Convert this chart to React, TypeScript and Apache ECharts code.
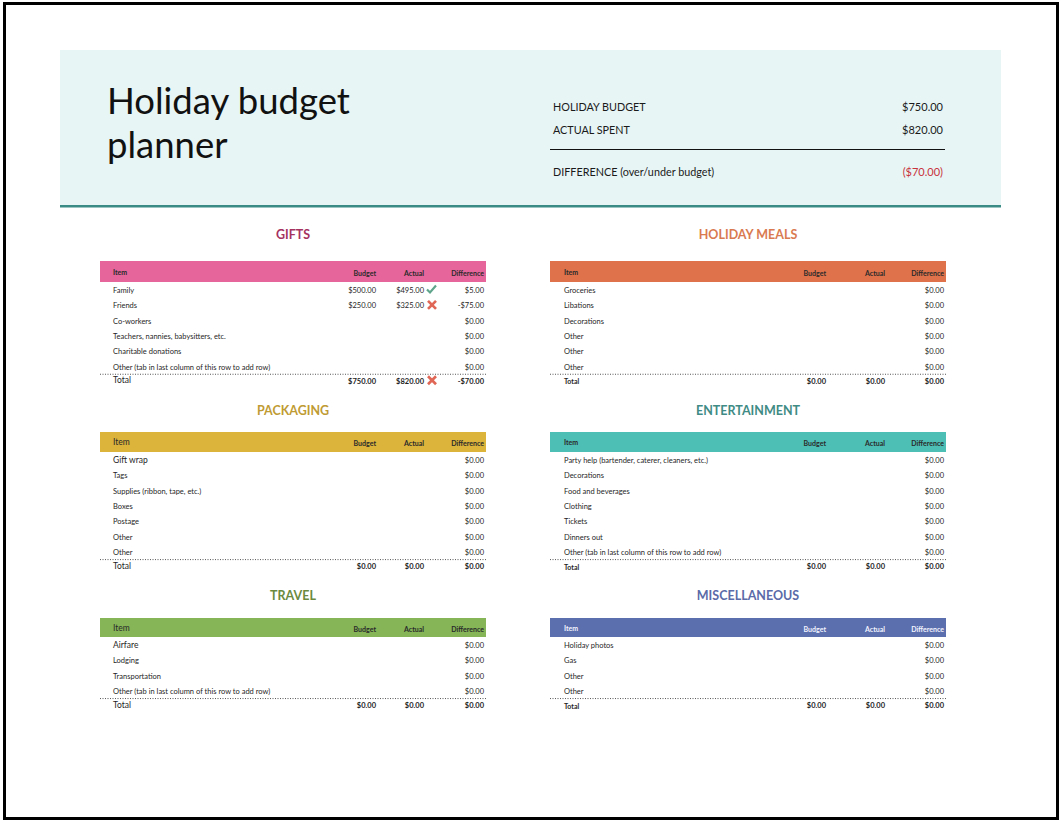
import React, { useEffect, useRef } from "react";
import * as echarts from "echarts";

// ---------- data ----------
const summaryLabels = ["HOLIDAY BUDGET", "ACTUAL SPENT", "DIFFERENCE (over/under budget)"];
const summaryValues = [750, 820, -70];

const giftsItems = ["Family", "Friends", "Co-workers", "Teachers, nannies, babysitters, etc.", "Charitable donations", "Other (tab in last column of this row to add row)"];
const giftsBudget = [500, 250, null, null, null, null];
const giftsActual = [495, 325, null, null, null, null];
const giftsDiff = [5, -75, 0, 0, 0, 0];
const giftsTotal = [750, 820, -70];
const giftsMarks = ["check", "cross", null, null, null, null];
const giftsTotalMark = "cross";

const mealsItems = ["Groceries", "Libations", "Decorations", "Other", "Other", "Other"];
const mealsDiff = [0, 0, 0, 0, 0, 0];
const mealsTotal = [0, 0, 0];

const packagingItems = ["Gift wrap", "Tags", "Supplies (ribbon, tape, etc.)", "Boxes", "Postage", "Other", "Other"];
const packagingDiff = [0, 0, 0, 0, 0, 0, 0];
const packagingTotal = [0, 0, 0];

const entertainmentItems = ["Party help (bartender, caterer, cleaners, etc.)", "Decorations", "Food and beverages", "Clothing", "Tickets", "Dinners out", "Other (tab in last column of this row to add row)"];
const entertainmentDiff = [0, 0, 0, 0, 0, 0, 0];
const entertainmentTotal = [0, 0, 0];

const travelItems = ["Airfare", "Lodging", "Transportation", "Other (tab in last column of this row to add row)"];
const travelDiff = [0, 0, 0, 0];
const travelTotal = [0, 0, 0];

const miscItems = ["Holiday photos", "Gas", "Other", "Other"];
const miscDiff = [0, 0, 0, 0];
const miscTotal = [0, 0, 0];

const columnHeaders = ["Item", "Budget", "Actual", "Difference"];

// ---------- helpers ----------
const FONT = "Lato, 'Open Sans', sans-serif";

function money(v: number | null): string {
  if (v === null || v === undefined) return "";
  const s = "$" + Math.abs(v).toFixed(2);
  return v < 0 ? "-" + s : s;
}

function txt(x: number, y: number, text: string, o: any = {}) {
  const align = o.align || "left";
  return {
    type: "text",
    x,
    y,
    silent: true,
    style: {
      text,
      fill: o.fill || "#1f1f1f",
      fontSize: o.size || 7,
      fontFamily: o.family || FONT,
      fontWeight: o.weight || "normal",
      align,
      textAlign: align,
      verticalAlign: "middle",
      textVerticalAlign: "middle",
    },
  };
}

function checkMark(x: number, y: number) {
  return {
    type: "polyline",
    silent: true,
    shape: { points: [[x, y], [x + 3, y + 3], [x + 9, y - 4]] },
    style: { stroke: "#5fa58c", lineWidth: 2.2, fill: null },
  };
}
function crossMark(x: number, y: number) {
  return [
    { type: "line", silent: true, shape: { x1: x, y1: y - 4, x2: x + 8, y2: y + 4 }, style: { stroke: "#e06656", lineWidth: 2.6 } },
    { type: "line", silent: true, shape: { x1: x + 8, y1: y - 4, x2: x, y2: y + 4 }, style: { stroke: "#e06656", lineWidth: 2.6 } },
  ];
}

type Section = {
  title: string;
  titleColor: string;
  barColor: string;
  headColor: string;
  side: "L" | "R";
  titleY: number;
  barY: number;
  barH: number;
  items: string[];
  budget?: (number | null)[];
  actual?: (number | null)[];
  diff: number[];
  total: number[];
  marks?: (string | null)[];
  totalMark?: string | null;
  bigFirst?: boolean;
  bigTotal?: boolean;
  bigItemHead?: boolean;
};

const sections: Section[] = [
  { title: "GIFTS", titleColor: "#a5325f", barColor: "#e6659a", headColor: "#2a2a2a", side: "L", titleY: 234, barY: 261, barH: 21, items: giftsItems, budget: giftsBudget, actual: giftsActual, diff: giftsDiff, total: giftsTotal, marks: giftsMarks, totalMark: giftsTotalMark, bigTotal: true },
  { title: "HOLIDAY MEALS", titleColor: "#d97a51", barColor: "#e0724b", headColor: "#2a2a2a", side: "R", titleY: 234, barY: 261, barH: 21, items: mealsItems, diff: mealsDiff, total: mealsTotal },
  { title: "PACKAGING", titleColor: "#bf9b34", barColor: "#dcb33b", headColor: "#2a2a2a", side: "L", titleY: 410, barY: 432, barH: 20, items: packagingItems, diff: packagingDiff, total: packagingTotal, bigFirst: true, bigTotal: true, bigItemHead: true },
  { title: "ENTERTAINMENT", titleColor: "#3f8b85", barColor: "#4ebfb5", headColor: "#2a2a2a", side: "R", titleY: 410, barY: 432, barH: 20, items: entertainmentItems, diff: entertainmentDiff, total: entertainmentTotal },
  { title: "TRAVEL", titleColor: "#6b8a40", barColor: "#85b557", headColor: "#2a2a2a", side: "L", titleY: 595, barY: 618, barH: 19, items: travelItems, diff: travelDiff, total: travelTotal, bigFirst: true, bigTotal: true, bigItemHead: true },
  { title: "MISCELLANEOUS", titleColor: "#5b6aa8", barColor: "#5b6ead", headColor: "#f2f4ff", side: "R", titleY: 595, barY: 618, barH: 19, items: miscItems, diff: miscDiff, total: miscTotal },
];

const GEOM = {
  L: { x0: 100, x1: 486, item: 113, budget: 376, actual: 424, diff: 484 },
  R: { x0: 550, x1: 946, item: 564, budget: 826, actual: 885, diff: 944 },
};

function buildSection(s: Section): any[] {
  const g = GEOM[s.side];
  const out: any[] = [];
  out.push(txt((g.x0 + g.x1) / 2, s.titleY, s.title, { align: "center", size: 12.5, weight: "bold", fill: s.titleColor }));
  out.push({ type: "rect", silent: true, shape: { x: g.x0, y: s.barY, width: g.x1 - g.x0, height: s.barH }, style: { fill: s.barColor } });
  const hy = s.barY + s.barH / 2;
  out.push(txt(g.item, hy, columnHeaders[0], s.bigItemHead ? { size: 8.5, fill: s.headColor } : { size: 7, weight: "bold", fill: s.headColor }));
  out.push(txt(g.budget, hy + 1, columnHeaders[1], { size: 7, weight: "bold", fill: s.headColor, align: "right" }));
  out.push(txt(g.actual, hy + 1, columnHeaders[2], { size: 7, weight: "bold", fill: s.headColor, align: "right" }));
  out.push(txt(g.diff, hy + 1, columnHeaders[3], { size: 7, weight: "bold", fill: s.headColor, align: "right" }));
  const y0 = s.barY + s.barH + 8.5;
  const step = 15.35;
  s.items.forEach((it, i) => {
    const y = y0 + i * step;
    const big = s.bigFirst && i === 0;
    out.push(txt(g.item, big ? y - 1 : y, it, { size: big ? 8.5 : 7.5 }));
    if (s.budget && s.budget[i] !== null) out.push(txt(g.budget, y, money(s.budget[i] as number), { size: 7.5, align: "right" }));
    if (s.actual && s.actual[i] !== null) out.push(txt(g.actual, y, money(s.actual[i] as number), { size: 7.5, align: "right" }));
    out.push(txt(g.diff, y, money(s.diff[i]), { size: 7.5, align: "right" }));
    const m = s.marks ? s.marks[i] : null;
    if (m === "check") out.push(checkMark(g.actual + 3, y - 1));
    if (m === "cross") out.push(...crossMark(g.actual + 4, y - 1));
  });
  const lastY = y0 + (s.items.length - 1) * step;
  const lineY = lastY + 7;
  out.push({ type: "line", silent: true, shape: { x1: g.x0, y1: lineY, x2: g.x1, y2: lineY }, style: { stroke: "#555", lineWidth: 1, lineDash: [1, 1.5] } });
  const ty = lastY + 14;
  out.push(txt(g.item, s.bigTotal ? ty - 1 : ty, "Total", s.bigTotal ? { size: 8.5 } : { size: 7, weight: "bold" }));
  out.push(txt(g.budget, ty, money(s.total[0]), { size: 7.5, weight: "bold", align: "right" }));
  out.push(txt(g.actual, ty, money(s.total[1]), { size: 7.5, weight: "bold", align: "right" }));
  out.push(txt(g.diff, ty, money(s.total[2]), { size: 7.5, weight: "bold", align: "right" }));
  if (s.totalMark === "cross") out.push(...crossMark(g.actual + 4, ty - 1));
  return out;
}

function buildGraphic(): any[] {
  const els: any[] = [];
  els.push({ type: "rect", silent: true, shape: { x: 0, y: 0, width: 1063, height: 823 }, style: { fill: "#ffffff" } });
  els.push({ type: "rect", silent: true, shape: { x: 4.5, y: 3.5, width: 1053, height: 815 }, style: { fill: null, stroke: "#000", lineWidth: 3 } });
  // header band
  els.push({ type: "rect", silent: true, shape: { x: 60, y: 50, width: 941, height: 155 }, style: { fill: "#e7f5f5" } });
  els.push({ type: "rect", silent: true, shape: { x: 60, y: 205, width: 941, height: 2.5 }, style: { fill: "#3a8b85" } });
  els.push(txt(107, 100, "Holiday budget", { size: 36.5, fill: "#111" }));
  els.push(txt(107, 144, "planner", { size: 36.5, fill: "#111" }));
  // summary
  const sy = [106, 129, 171];
  summaryLabels.forEach((l, i) => {
    els.push(txt(553, sy[i], l, { size: 10.8, fill: "#1a1a1a" }));
    const v = summaryValues[i];
    const s = v < 0 ? "($" + Math.abs(v).toFixed(2) + ")" : "$" + v.toFixed(2);
    els.push(txt(943, sy[i], s, { size: 11, fill: v < 0 ? "#c8323c" : "#1a1a1a", align: "right" }));
  });
  els.push({ type: "line", silent: true, shape: { x1: 550, y1: 149.5, x2: 945, y2: 149.5 }, style: { stroke: "#111", lineWidth: 1 } });
  sections.forEach((s) => els.push(...buildSection(s)));
  return els;
}

export default function App() {
  const ref = useRef<HTMLDivElement>(null);
  useEffect(() => {
    if (!ref.current) return;
    const chart = echarts.init(ref.current, null, { renderer: "svg" });
    chart.setOption({ animation: false, backgroundColor: "#fff", graphic: buildGraphic() });
    return () => chart.dispose();
  }, []);
  return <div ref={ref} style={{ position: "fixed", left: 0, top: 0, width: 1063, height: 823, background: "#fff" }} />;
}
